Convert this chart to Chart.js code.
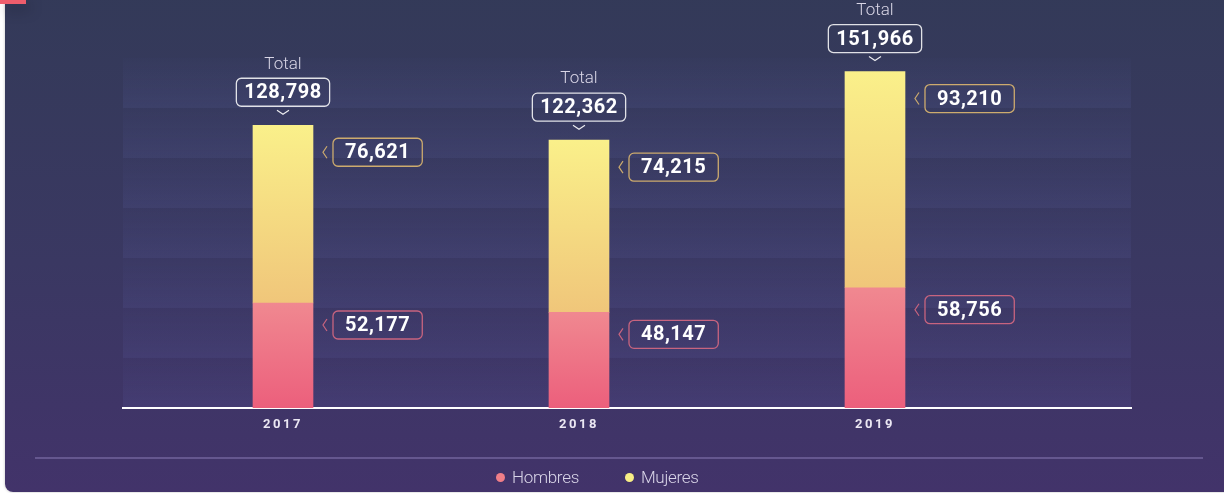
<!DOCTYPE html>
<html lang="es">
<head>
<meta charset="utf-8">
<script src="https://cdn.jsdelivr.net/npm/chart.js@4.4.1/dist/chart.umd.min.js"></script>
<style>
  html, body { margin: 0; padding: 0; width: 1224px; height: 493px; overflow: hidden; background: #fff; font-family: Roboto, sans-serif; }
  .card {
    position: absolute; left: 5px; top: -20px; width: 1240px; height: 512px;
    border-radius: 8px;
    background: linear-gradient(180deg, #333a58 0%, #3a3862 55%, #42336a 100%);
    box-shadow: 0 0 3px rgba(0,0,0,0.25);
  }
  .flag { position: absolute; left: 0; top: 0; width: 26px; height: 4px; background: #ee5d6c; box-shadow: 4px 5px 14px rgba(0,0,0,0.35); }
  .sep { position: absolute; left: 35px; top: 457px; width: 1168px; height: 2px; background: #65578f; }
  #legend { position: absolute; left: 496px; top: 466px; display: flex; gap: 46px; }
  #legend .item { display: flex; align-items: center; height: 22px; }
  #legend .dot { width: 9px; height: 9px; border-radius: 50%; margin-right: 7px; }
  #legend .txt { color: #d9d5e8; font: 300 17px Roboto, sans-serif; letter-spacing: -0.3px; }
  canvas { position: absolute; left: 0; top: 0; }
</style>
</head>
<body>
<div class="card"></div>
<div class="flag"></div>
<canvas id="chart" width="1224" height="493"></canvas>
<div class="sep"></div>
<div id="legend"></div>
<script>
// datos
const years = ['2017', '2018', '2019'];
const hombres = [52177, 48147, 58756];
const mujeres = [76621, 74215, 93210];
const seriesNames = ['Hombres', 'Mujeres'];

// escala (el eje no arranca en cero en el original)
const yMin = 6900;
const yMax = 157800;
const xMin = -0.5405;
const xMax = 2.8649;
const bandCount = 7;

const totals = years.map((_, i) => hombres[i] + mujeres[i]);
const fmt = v => v.toLocaleString('en-US');

const hombresGrad = ['#f08890', '#ec5f7c'];
const mujeresGrad = ['#faf08a', '#f0c67a'];
const hombresBorder = '#c8647f';
const mujeresBorder = '#cdab6e';

// degradado vertical por barra
function segmentGradient(ctx, colors, lowValues, highValues) {
    const chart = ctx.chart;
    if (!chart.chartArea || ctx.dataIndex === undefined) return colors[0];
    const y = chart.scales.y;
    const i = ctx.dataIndex;
    const top = y.getPixelForValue(highValues[i]);
    const bottom = lowValues ? y.getPixelForValue(lowValues[i]) : chart.chartArea.bottom;
    const g = chart.ctx.createLinearGradient(0, top, 0, bottom);
    g.addColorStop(0, colors[0]);
    g.addColorStop(1, colors[1]);
    return g;
}

const bandPlugin = {
    id: 'bands',
    beforeDraw(chart) {
        const {ctx, chartArea: a, scales: {y}} = chart;
        const step = (y.max - y.min) / bandCount;
        ctx.save();
        for (let i = 0; i < bandCount; i++) {
            const top = y.getPixelForValue(y.max - i * step);
            const bottom = y.getPixelForValue(y.max - (i + 1) * step);
            const g = ctx.createLinearGradient(0, top, 0, bottom);
            g.addColorStop(0, 'rgba(120,130,220,0.02)');
            g.addColorStop(1, 'rgba(120,130,220,0.10)');
            ctx.fillStyle = g;
            ctx.fillRect(a.left, top, a.right - a.left, bottom - top);
        }
        ctx.restore();
        // espaciado de letras para los años del eje
        ctx.letterSpacing = '2.5px';
    }
};

function roundBox(ctx, x, y, w, h, stroke) {
    ctx.beginPath();
    ctx.roundRect(x, y, w, h, 5);
    ctx.strokeStyle = stroke;
    ctx.lineWidth = 1.3;
    ctx.stroke();
}

function segLabel(ctx, barRight, cy, value, color) {
    ctx.font = '700 20px Roboto';
    ctx.letterSpacing = '0.5px';
    const txt = fmt(value);
    const w = ctx.measureText(txt).width + 24;
    // flecha "<"
    ctx.beginPath();
    ctx.moveTo(barRight + 14, cy - 6);
    ctx.lineTo(barRight + 10, cy);
    ctx.lineTo(barRight + 14, cy + 6);
    ctx.strokeStyle = color;
    ctx.lineWidth = 1.2;
    ctx.stroke();
    roundBox(ctx, barRight + 20, cy - 14, w, 28, color);
    ctx.fillStyle = '#ffffff';
    ctx.textAlign = 'center';
    ctx.fillText(txt, barRight + 20 + w / 2, cy + 1);
}

const labelPlugin = {
    id: 'labels',
    afterDatasetsDraw(chart) {
        const {ctx} = chart;
        const metaH = chart.getDatasetMeta(0);
        const metaM = chart.getDatasetMeta(1);
        ctx.save();
        ctx.textBaseline = 'middle';
        years.forEach((yr, i) => {
            const bh = metaH.data[i];
            const bm = metaM.data[i];
            const right = bh.x + bh.width / 2;
            segLabel(ctx, right, bh.y + 22, hombres[i], hombresBorder);
            segLabel(ctx, right, bm.y + 27, mujeres[i], mujeresBorder);

            // total encima de la barra
            const top = bm.y;
            ctx.font = '700 20px Roboto';
            ctx.letterSpacing = '0.5px';
            const txt = fmt(totals[i]);
            const w = ctx.measureText(txt).width + 16;
            roundBox(ctx, bh.x - w / 2, top - 47, w, 28, 'rgba(255,255,255,0.85)');
            ctx.fillStyle = '#ffffff';
            ctx.textAlign = 'center';
            ctx.fillText(txt, bh.x, top - 32);
            ctx.beginPath();
            ctx.moveTo(bh.x - 6, top - 15);
            ctx.lineTo(bh.x, top - 11);
            ctx.lineTo(bh.x + 6, top - 15);
            ctx.strokeStyle = 'rgba(255,255,255,0.9)';
            ctx.lineWidth = 1.2;
            ctx.stroke();
            ctx.font = '300 17px Roboto';
            ctx.letterSpacing = '0px';
            ctx.fillStyle = '#d9d6e6';
            ctx.fillText('Total', bh.x, top - 61);
        });
        ctx.restore();
    }
};

const chart = new Chart(document.getElementById('chart'), {
    type: 'bar',
    data: {
        datasets: [
            {
                label: seriesNames[0],
                data: hombres.map((v, i) => ({x: i, y: v})),
                backgroundColor: c => segmentGradient(c, hombresGrad, null, hombres),
                legendColor: '#f07e88'
            },
            {
                label: seriesNames[1],
                data: mujeres.map((v, i) => ({x: i, y: v})),
                backgroundColor: c => segmentGradient(c, mujeresGrad, hombres, totals),
                legendColor: '#f8ee86'
            }
        ]
    },
    options: {
        responsive: false,
        animation: false,
        barThickness: 60,
        layout: { padding: { left: 123, right: 93, top: 58, bottom: 0 } },
        plugins: { legend: { display: false }, tooltip: { enabled: false } },
        scales: {
            x: {
                type: 'linear',
                stacked: true,
                offset: false,
                min: xMin,
                max: xMax,
                afterBuildTicks: s => { s.ticks = years.map((_, i) => ({value: i})); },
                afterFit: s => { s.height = 85; },
                grid: { display: true, color: 'transparent', drawTicks: false, offset: false },
                border: { display: true, color: '#ffffff', width: 2 },
                ticks: {
                    color: '#ebe7f3',
                    font: { family: 'Roboto', weight: '700', size: 13 },
                    padding: 9,
                    autoSkip: false,
                    maxRotation: 0,
                    callback: v => years[v] ?? ''
                }
            },
            y: { display: false, stacked: true, min: yMin, max: yMax }
        }
    },
    plugins: [bandPlugin, labelPlugin]
});

// leyenda en HTML
const legend = document.getElementById('legend');
chart.data.datasets.forEach(ds => {
    const item = document.createElement('div');
    item.className = 'item';
    item.innerHTML = `<span class="dot" style="background:${ds.legendColor}"></span><span class="txt">${ds.label}</span>`;
    legend.appendChild(item);
});
</script>
</body>
</html>
